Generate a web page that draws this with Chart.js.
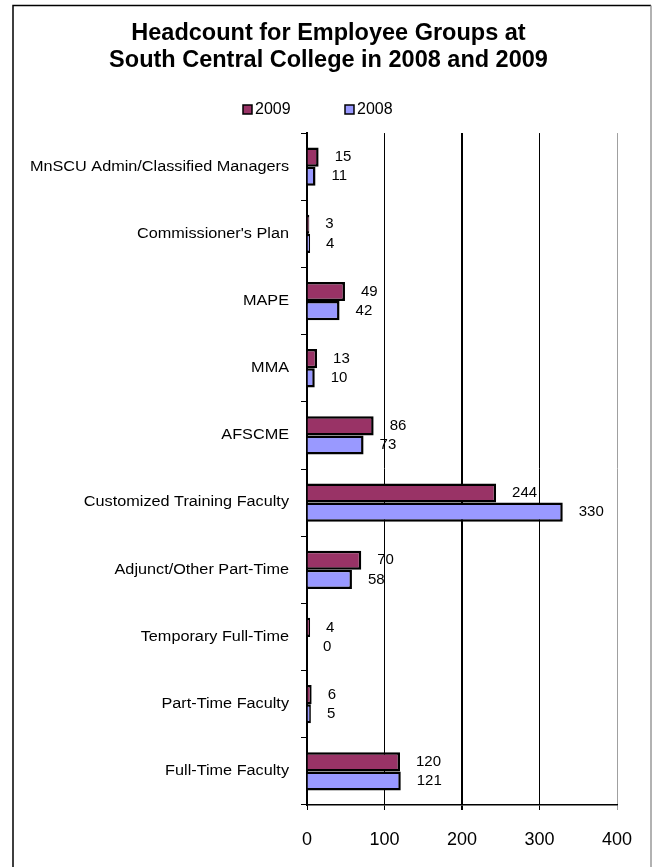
<!DOCTYPE html>
<html>
<head>
<meta charset="utf-8">
<script src="https://cdn.jsdelivr.net/npm/chart.js@4"></script>
<style>
html,body{margin:0;padding:0;background:#fff;}
#wrap{position:relative;width:657px;height:867px;}
</style>
</head>
<body>
<div id="wrap"><canvas id="c" width="657" height="867"></canvas></div>
<script>
const categories = [
  "MnSCU Admin/Classified Managers",
  "Commissioner's Plan",
  "MAPE",
  "MMA",
  "AFSCME",
  "Customized Training Faculty",
  "Adjunct/Other Part-Time",
  "Temporary Full-Time",
  "Part-Time Faculty",
  "Full-Time Faculty"
];
const values2009 = [15, 3, 49, 13, 86, 244, 70, 4, 6, 120];
const values2008 = [11, 4, 42, 10, 73, 330, 58, 0, 5, 121];
const xTicks = [0, 100, 200, 300, 400];
const titleLines = ["Headcount for Employee Groups at", "South Central College in 2008 and 2009"];

const FONT = "'Liberation Sans', Arial, sans-serif";

const framePlugin = {
  id: 'frame',
  beforeDraw(chart) {
    const ctx = chart.ctx;
    ctx.save();
    ctx.fillStyle = '#fff';
    ctx.fillRect(0, 0, chart.width, chart.height);
    ctx.lineWidth = 1.5;
    ctx.strokeStyle = '#000';
    ctx.beginPath();
    ctx.moveTo(13, 870); ctx.lineTo(13, 5.5); ctx.lineTo(651, 5.5);
    ctx.stroke();
    ctx.strokeStyle = '#999';
    ctx.beginPath();
    ctx.moveTo(651, 5.5); ctx.lineTo(651, 870);
    ctx.stroke();
    ctx.restore();
  }
};

const valueLabels = {
  id: 'valueLabels',
  afterDatasetsDraw(chart) {
    const ctx = chart.ctx;
    ctx.save();
    ctx.font = "15px " + FONT;
    ctx.fillStyle = '#000';
    ctx.textAlign = 'left';
    ctx.textBaseline = 'middle';
    chart.data.datasets.forEach((ds, di) => {
      const meta = chart.getDatasetMeta(di);
      meta.data.forEach((bar, i) => {
        ctx.fillText(String(ds.data[i]), bar.x + 16, bar.y);
      });
    });
    ctx.restore();
  }
};

const customLegend = {
  id: 'customLegend',
  afterDraw(chart) {
    const ctx = chart.ctx;
    const starts = [243, 345];
    ctx.save();
    ctx.font = "16px " + FONT;
    ctx.textBaseline = 'middle';
    ctx.textAlign = 'left';
    chart.data.datasets.forEach((ds, i) => {
      const x = starts[i], y = 110;
      ctx.fillStyle = ds.backgroundColor;
      ctx.fillRect(x, y - 5, 9, 9);
      ctx.strokeStyle = '#000';
      ctx.lineWidth = 1.5;
      ctx.strokeRect(x, y - 5, 9, 9);
      ctx.fillStyle = '#000';
      ctx.fillText(ds.label, x + 12, y);
    });
    ctx.restore();
  }
};

new Chart(document.getElementById('c'), {
  type: 'bar',
  data: {
    labels: categories,
    datasets: [
      { label: '2009', data: values2009, backgroundColor: '#993366', borderColor: '#000', borderWidth: 2.5, borderSkipped: 'start' },
      { label: '2008', data: values2008, backgroundColor: '#9999FF', borderColor: '#000', borderWidth: 2.5, borderSkipped: 'start' }
    ]
  },
  options: {
    indexAxis: 'y',
    responsive: false,
    animation: false,
    devicePixelRatio: 1,
    categoryPercentage: 0.57,
    barPercentage: 1.0,
    layout: { padding: { left: 40, right: 40, top: 0, bottom: 0 } },
    plugins: {
      legend: { display: false },
      tooltip: { enabled: false },
      title: {
        display: true,
        text: titleLines,
        color: '#000',
        font: { family: FONT, size: 23.5, weight: 'bold', lineHeight: 1.15 },
        padding: { top: 20, bottom: 59 }
      }
    },
    scales: {
      x: {
        min: 0, max: 400,
        afterBuildTicks(scale) { scale.ticks = xTicks.map(v => ({ value: v })); },
        afterFit(scale) { scale.height = 62; },
        grid: {
          color: ctx => (ctx.tick && ctx.tick.value === 400) ? '#a0a0a0' : '#000',
          lineWidth: ctx => (ctx.tick && ctx.tick.value === 200) ? 2 : 1,
          tickLength: 5,
          drawOnChartArea: true
        },
        border: { display: true, color: '#000', width: 1.5 },
        ticks: { color: '#000', font: { family: FONT, size: 18 }, padding: 19 }
      },
      y: {
        afterFit(scale) {
          scale.width = 267;
          if (!scale._stretchedLabels) {
            const orig = scale.drawLabels;
            scale._computeLabelArea = () => undefined;
            scale.drawLabels = function (area) {
              const ctx = this.ctx;
              const x0 = this.right - 18;
              ctx.save();
              ctx.translate(x0, 0);
              ctx.scale(1.16, 1);
              ctx.translate(-x0, 0);
              orig.call(this, area);
              ctx.restore();
            };
            scale._stretchedLabels = true;
          }
        },
        grid: { drawOnChartArea: false, color: '#000', tickLength: 6, offset: true },
        border: { display: true, color: '#000', width: 2 },
        ticks: { color: '#000', font: { family: FONT, size: 14 }, padding: 12, autoSkip: false }
      }
    }
  },
  plugins: [framePlugin, valueLabels, customLegend]
});
</script>
</body>
</html>
